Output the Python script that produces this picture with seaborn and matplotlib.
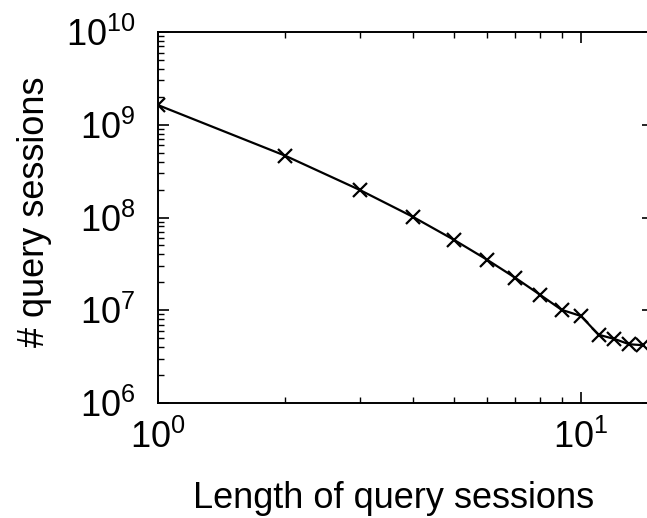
import matplotlib
matplotlib.use("Agg")
import matplotlib.pyplot as plt
import seaborn as sns
import pandas as pd
from matplotlib.ticker import LogLocator

session_length = [1, 2, 3, 4, 5, 6, 7, 8, 9, 10, 11, 12, 13, 14]
num_sessions = [1.63e9, 4.63e8, 1.98e8, 1.02e8, 5.77e7, 3.5e7, 2.23e7,
                1.47e7, 1.01e7, 8.67e6, 5.45e6, 4.9e6, 4.3e6, 4.2e6]

sns.set_style("ticks")
plt.rcParams['font.family'] = ['Liberation Sans', 'DejaVu Sans']
plt.rcParams['mathtext.fontset'] = 'custom'
plt.rcParams['mathtext.rm'] = 'Liberation Sans'
plt.rcParams['text.color'] = 'black'
plt.rcParams['axes.labelcolor'] = 'black'
plt.rcParams['xtick.color'] = 'black'
plt.rcParams['ytick.color'] = 'black'

df = pd.DataFrame({"x": session_length, "y": num_sessions})

fig = plt.figure(figsize=(6.47, 5.18), dpi=100)
ax = fig.add_axes([158/647, (518-403)/518, (653-158)/647, (403-32)/518])

sns.lineplot(data=df, x="x", y="y", ax=ax, color="black", linewidth=1.6,
             marker="x", markersize=10, markeredgewidth=1.6, markeredgecolor="black")

ax.set_xscale("log")
ax.set_yscale("log")
ax.set_xlim(1, 10 ** ((653 - 158) / 423))
ax.set_ylim(1e6, 1e10)

ax.xaxis.set_major_locator(LogLocator(base=10, numticks=10))
ax.yaxis.set_major_locator(LogLocator(base=10, numticks=10))
ax.xaxis.set_minor_locator(LogLocator(base=10, subs=range(2, 10), numticks=20))
ax.yaxis.set_minor_locator(LogLocator(base=10, subs=range(2, 10), numticks=20))

ax.tick_params(which="both", direction="in", top=True, right=True,
               color="black", labelcolor="black")
ax.tick_params(which="major", length=8, width=1.2, labelsize=26)
ax.tick_params(axis="x", which="major", pad=12)
ax.tick_params(axis="y", which="major", pad=16)
ax.tick_params(which="minor", length=4, width=1.0)
for s in ax.spines.values():
    s.set_linewidth(1.4)
    s.set_color("black")

ax.set_xlabel("Length of query sessions", fontsize=26, labelpad=16)
ax.set_ylabel("# query sessions", fontsize=26, labelpad=12)
ax.xaxis.set_label_coords(0.475, -0.21)
ax.yaxis.set_label_coords(-0.215, 0.515)

fig.savefig("out.png", dpi=100)
